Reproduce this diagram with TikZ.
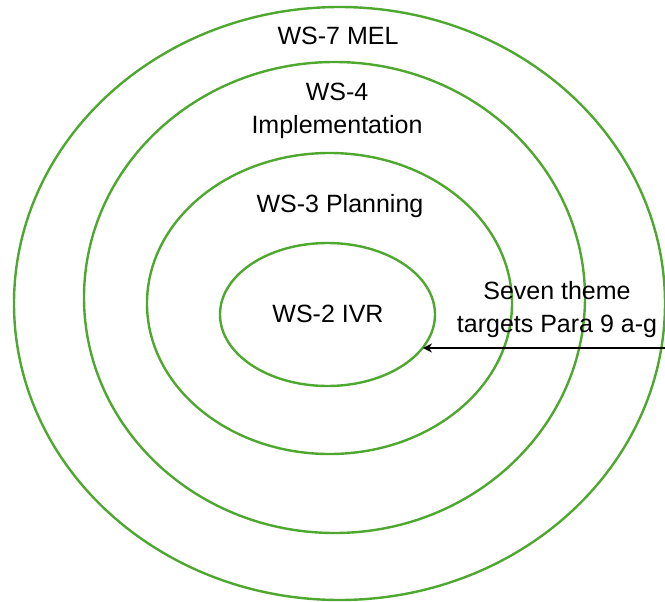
\documentclass[tikz,border=0pt]{standalone}
\usepackage{fontspec}
\setmainfont{Liberation Sans}
\usetikzlibrary{shapes.geometric,arrows.meta}
\definecolor{ringgreen}{HTML}{4EA72E}
\tikzset{
  ring/.style={ellipse,draw=ringgreen,line width=2.4pt,inner sep=0pt,outer sep=0pt},
  lbl/.style={font=\fontsize{25}{33}\selectfont,align=center,anchor=base,inner sep=0pt},
  pointer/.style={draw=black,line width=2.3pt,-{Stealth[length=9pt,width=9pt]}}
}
\begin{document}
\begin{tikzpicture}[x=1pt,y=-1pt]
\useasboundingbox (0,0) rectangle (665,602);
\node[ring,minimum width=651pt,minimum height=593pt] (outer) at (339.5,303.5) {};
\node[ring,minimum width=501pt,minimum height=471pt] (second) at (334.5,297.5) {};
\node[ring,minimum width=365pt,minimum height=301pt] (third) at (329.5,303.5) {};
\node[ring,minimum width=215pt,minimum height=143pt] (inner) at (327.5,314.5) {};
\node[lbl] (t7) at (338,45) {WS-7 MEL};
\node[lbl] (t4) at (337,134) {WS-4\\Implementation};
\node[lbl] (t3) at (340,212) {WS-3 Planning};
\node[lbl] (t2) at (328,322) {WS-2 IVR};
\node[lbl] (tt) at (557,332) {Seven theme\\targets Para 9 a-g};
\coordinate (src) at (666,348);
\draw[pointer] (src) -- (src -| inner.-19.4);
\end{tikzpicture}
\end{document}
